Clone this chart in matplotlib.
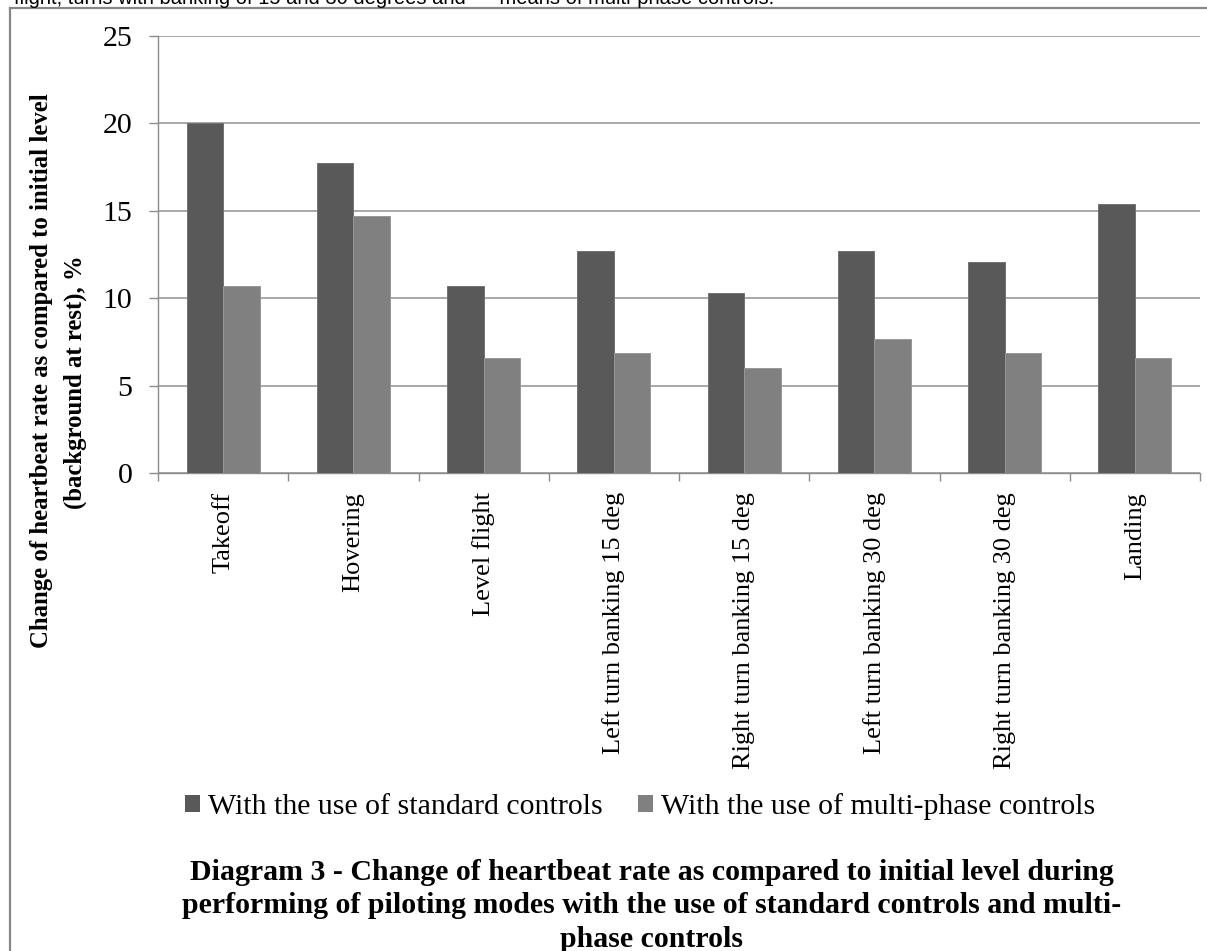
import matplotlib
matplotlib.use("Agg")
import matplotlib.pyplot as plt
from matplotlib.patches import Patch
from matplotlib.lines import Line2D
import numpy as np

# --- data -------------------------------------------------------------
modes = [
    "Takeoff",
    "Hovering",
    "Level flight",
    "Left turn banking 15 deg",
    "Right turn banking 15 deg",
    "Left turn banking 30 deg",
    "Right turn banking 30 deg",
    "Landing",
]
standard_controls = [20.0, 17.7, 10.7, 12.7, 10.3, 12.7, 12.1, 15.4]
multiphase_controls = [10.7, 14.7, 6.6, 6.9, 6.0, 7.7, 6.9, 6.6]
series_names = ["With the use of standard controls",
                "With the use of multi-phase controls"]
y_ticks = [0, 5, 10, 15, 20, 25]

ylabel_lines = ["Change of heartbeat rate as compared to initial level",
                "(background at rest), %"]
title_lines = ["Diagram 3 - Change of heartbeat rate as compared to initial level during",
               "performing of piloting modes with the use of standard controls and multi-",
               "phase controls"]
header_text = ("flight, turns with banking of 15 and 30 degrees and      "
               "means of multi-phase controls.")

# --- styling ----------------------------------------------------------
W, H = 1207, 951
DPI = 100
SERIF = "Liberation Serif"
DARK = "#595959"
LIGHT = "#808080"
GRID = "#a8a8a8"
AXIS = "#8c8c8c"

fig = plt.figure(figsize=(W / DPI, H / DPI), dpi=DPI)
fig.patch.set_facecolor("white")


def fx(px):
    return px / W


def fy(py):
    return 1 - py / H


# plot area
left, right, top, bottom = 158, 1200, 35.7, 473.3
ax = fig.add_axes([fx(left), fy(bottom), fx(right - left), (bottom - top) / H])

x = np.arange(len(modes))
bw = 0.28
ax.bar(x - bw / 2, standard_controls, width=bw, color=DARK, edgecolor="#727272",
       linewidth=0.7, zorder=3, label=series_names[0])
ax.bar(x + bw / 2, multiphase_controls, width=bw, color=LIGHT, edgecolor="#979797",
       linewidth=0.7, zorder=3, label=series_names[1])

ax.set_xlim(-0.5, len(modes) - 0.5)
ax.set_ylim(0, 25)
ax.set_yticks(y_ticks)
ax.set_yticklabels([str(v) for v in y_ticks], fontfamily=SERIF, fontsize=21.5)
ax.yaxis.grid(True, color=GRID, linewidth=1.4, zorder=0)
ax.set_axisbelow(True)

ax.set_xticks(x)
ax.set_xticklabels(modes, rotation=90, fontfamily=SERIF, fontsize=19,
                   ha="center", va="top")
ax.set_xticks(np.arange(len(modes) + 1) - 0.5, minor=True)
ax.tick_params(axis="x", which="major", length=0, pad=13.5)
ax.tick_params(axis="x", which="minor", length=6, width=1, color=AXIS, direction="out")
ax.tick_params(axis="y", which="major", length=6.5, width=1, color=AXIS,
               direction="out", pad=12)

for side in ("top", "right"):
    ax.spines[side].set_visible(False)
for side in ("left", "bottom"):
    ax.spines[side].set_color(AXIS)
    ax.spines[side].set_linewidth(1)

# y-axis title, two centred lines
for line, bx, cy in zip(ylabel_lines, (48, 82), (371, 382)):
    fig.text(fx(bx), fy(cy), line, rotation=90, rotation_mode="anchor",
             ha="center", va="baseline", fontfamily=SERIF, fontweight="bold",
             fontsize=17.8)

# legend
handles = [Patch(facecolor=DARK, edgecolor="none"),
           Patch(facecolor=LIGHT, edgecolor="none")]
fig.legend(handles, series_names, loc="center", bbox_to_anchor=(fx(640), fy(807)),
           ncol=2, frameon=False, prop={"family": SERIF, "size": 21.5},
           handlelength=0.5, handleheight=0.5, handletextpad=0.27,
           columnspacing=1.2, borderpad=0, borderaxespad=0)

# caption below the chart
for line, by in zip(title_lines, (880, 913, 947)):
    fig.text(fx(651.5), fy(by), line, ha="center", va="baseline",
             fontfamily=SERIF, fontweight="bold", fontsize=21.5)

# running text above the frame
fig.text(fx(14), fy(4), header_text, ha="left", va="baseline",
         fontfamily="Liberation Sans", fontsize=14.5, color="black")

# outer frame
fig.add_artist(Line2D([fx(9.5), fx(9.5)], [fy(8), fy(H + 5)], color="#878787",
                      linewidth=1.6, transform=fig.transFigure))
fig.add_artist(Line2D([fx(9.5), fx(W + 5)], [fy(8), fy(8)], color="#878787",
                      linewidth=1.6, transform=fig.transFigure))

fig.savefig("out.png", dpi=DPI)
